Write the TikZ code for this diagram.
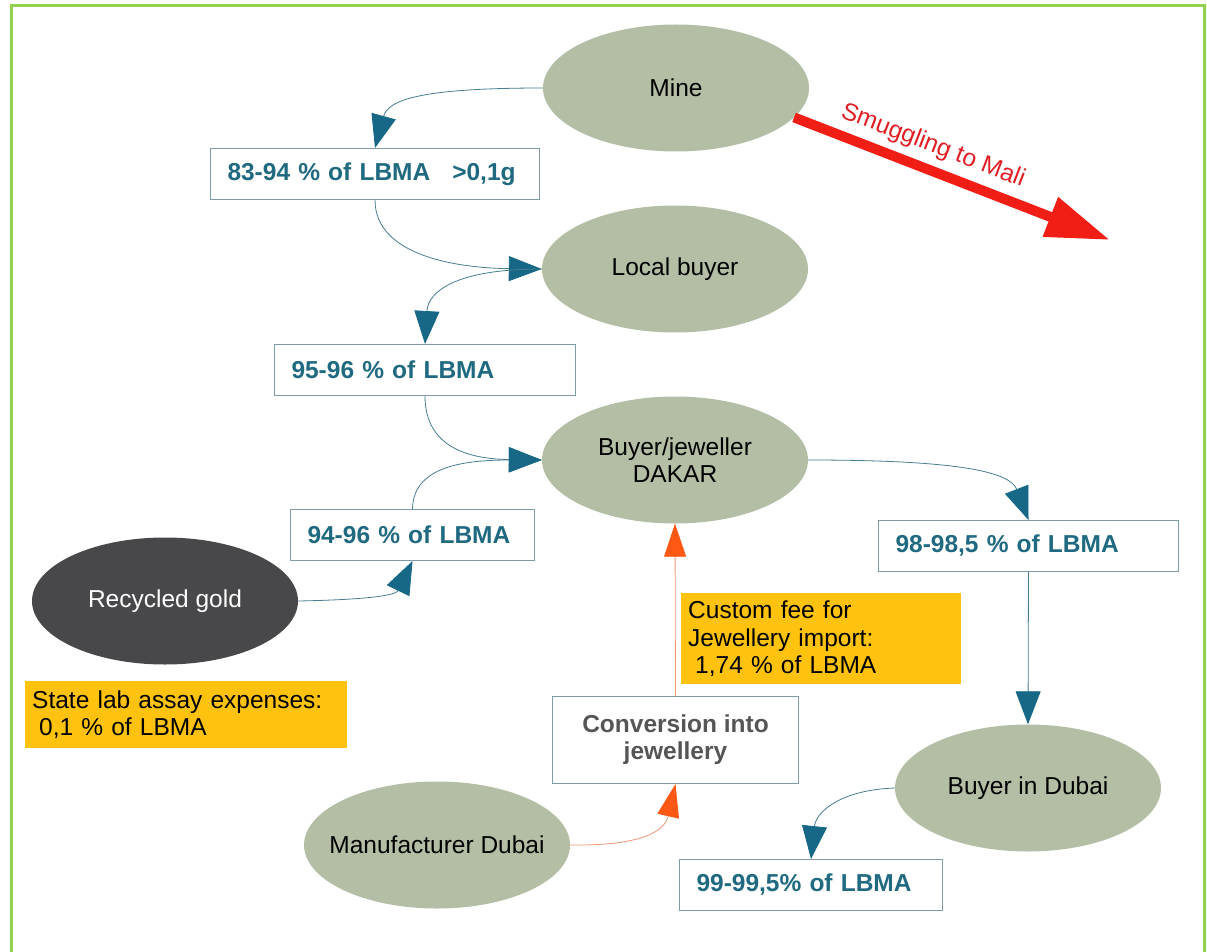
\documentclass[tikz,border=0pt]{standalone}
\usepackage{fontspec}
\setmainfont{Liberation Sans}
\usetikzlibrary{shapes.geometric,arrows.meta,calc}
\definecolor{sage}{RGB}{179,190,165}
\definecolor{darkell}{RGB}{72,72,75}
\definecolor{tealtext}{RGB}{31,106,128}
\definecolor{tealarrow}{RGB}{23,104,134}
\definecolor{tealline}{RGB}{70,125,145}
\definecolor{boxborder}{RGB}{125,155,168}
\definecolor{orangebox}{RGB}{255,194,14}
\definecolor{orangearrow}{RGB}{255,88,20}
\definecolor{orangeline}{RGB}{240,150,120}
\definecolor{smuggle}{RGB}{240,30,20}
\definecolor{smuggletext}{RGB}{225,30,35}
\definecolor{framegreen}{RGB}{146,208,80}
\definecolor{convtext}{RGB}{85,85,85}
\newcommand{\zw}[1]{\makebox[0pt]{#1}}
\begin{document}
\begin{tikzpicture}[x=1pt,y=-1pt,
  every node/.style={font=\fontsize{24.5}{27.5}\selectfont},
  ell/.style={ellipse,fill=sage,minimum width=266pt,minimum height=127pt,inner sep=0pt,align=center},
  pct/.style={draw=boxborder,line width=1pt,fill=white,text=tealtext,anchor=north west,
    inner xsep=17pt,inner ysep=0pt,minimum height=51pt,align=left,
    font=\fontsize{24.5}{27.5}\selectfont\bfseries},
  note/.style={fill=orangebox,anchor=north west,inner xsep=7pt,inner ysep=0pt,align=left},
  flow/.style={draw=tealline,line width=0.8pt,-{Triangle[length=33pt,width=25pt,color=tealarrow]}},
  oflow/.style={draw=orangeline,line width=0.8pt,-{Triangle[length=33pt,width=22pt,color=orangearrow]}}
]
\useasboundingbox (0,0) rectangle (1207,952);
\draw[framegreen,line width=3pt] (11,960) -- (11,6) -- (1204,6) -- (1204,960);

% ellipses
\node[ell] (mine) at (676,88) {\zw{Mine}};
\node[ell] (lb) at (675,269) {\zw{Local buyer}};
\node[ell] (dk) at (675,460) {\zw{Buyer/jeweller}\\\zw{DAKAR}};
\node[ell,fill=darkell,text=white] (rg) at (165,601) {\zw{Recycled gold}};
\node[ell] (md) at (437,845) {\zw{Manufacturer Dubai}};
\node[ell] (bd) at (1028,788) {\zw{Buyer in Dubai}};

% percentage boxes
\node[pct,text width=295pt] (b1) at (210,148) {83-94 \% of LBMA\hspace{22pt}>0,1g};
\node[pct,text width=267pt] (b2) at (274,344) {95-96 \% of LBMA};
\node[pct,text width=210pt] (b3) at (290,509) {94-96 \% of LBMA};
\node[pct,text width=266pt] (b4) at (878,520) {98-98,5 \% of LBMA};
\node[pct,text width=229pt] (b5) at (679,859) {99-99,5\% of LBMA};

% conversion box
\node[draw=boxborder,line width=1pt,fill=white,anchor=north west,minimum width=246pt,minimum height=87pt,
  align=center,text=convtext,font=\fontsize{24.5}{27}\selectfont\bfseries,inner sep=0pt] (conv) at (552,696)
  {Conversion into\\jewellery};

% orange notes
\node[note,text width=266pt,minimum width=280pt,minimum height=91pt] (fee) at (681,593)
  {Custom fee for\\Jewellery import:\\\hspace*{7pt}1,74 \% of LBMA};
\node[note,text width=308pt,minimum width=322pt,minimum height=67pt] (lab) at (25,681)
  {State lab assay expenses:\\\hspace*{7pt}0,1 \% of LBMA};

% connectors
\draw[flow] (mine.west) .. controls (420,88) and (388,100) .. (b1.north);
\draw[flow] (b1.south) .. controls (375,255) and (455,268) .. (lb.west);
\draw[flow] (lb.west) .. controls (455,269) and (428,292) .. (b2.north);
\draw[flow] (b2.south) .. controls (425,448) and (470,459) .. (dk.west);
\draw[flow] (rg.east) .. controls (350,600) and (395,597) .. (b3.south);
\draw[flow] (b3.north) .. controls (413,468) and (460,460) .. (dk.west);
\draw[flow] (dk.east) .. controls (960,460) and (1010,472) .. (b4.north);
\draw[flow] (b4.south) -- (bd.north);
\draw[flow] (bd.west) .. controls (840,790) and (816,812) .. (b5.north);
\draw[oflow] (md.east) .. controls (645,846) and (665,830) .. (conv.south);
\draw[oflow] (conv.north) -- (dk.south);

% smuggling
\coordinate (mali) at (1110,240);
\draw[smuggle,line width=10pt,-{Triangle[length=64pt,width=40pt]}] (mine.-14) -- (mali);
\node[text=smuggletext,rotate=-21] (smtxt) at (933,146) {Smuggling to Mali};
\end{tikzpicture}
\end{document}
